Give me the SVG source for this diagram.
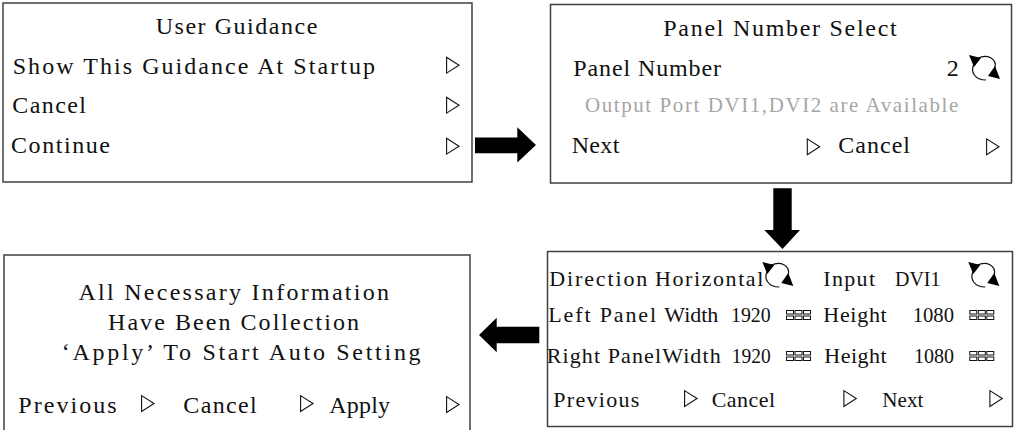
<svg xmlns="http://www.w3.org/2000/svg" width="1016" height="430" viewBox="0 0 1016 430">
<style>
.box{fill:#fff;stroke:#404040;stroke-width:1.5}
.t{font-family:"Liberation Serif","Times New Roman",serif;font-size:24px;fill:#111}
.s{font-family:"Liberation Serif","Times New Roman",serif;font-size:22px;fill:#111}
.g{font-family:"Liberation Serif","Times New Roman",serif;font-size:21px;fill:#a6a6a6}
.arrow{fill:#000}
</style>
<defs>
<path id="tri" d="M0.6,0.6 L13,8.5 L0.6,16.4 Z" fill="none" stroke="#111" stroke-width="1.1"/>
<g id="refresh">
<path d="M9,3 C18,-1 28,3 26,13" fill="none" stroke="#111" stroke-width="1.2"/>
<path d="M5,9 C1,17 6,25 17,25" fill="none" stroke="#111" stroke-width="1.2"/>
<polygon points="0,0 12,3 5,12" fill="#000"/>
<polygon points="31,24 19,21 26,11" fill="#000"/>
</g>
<g id="grid" fill="none" stroke="#111" stroke-width="1">
<rect x="0.5" y="0.5" width="7" height="3.5"/>
<rect x="9" y="0.5" width="7" height="3.5"/>
<rect x="17.5" y="0.5" width="7" height="3.5"/>
<rect x="0.5" y="6" width="7" height="3.5"/>
<rect x="9" y="6" width="7" height="3.5"/>
<rect x="17.5" y="6" width="7" height="3.5"/>
</g>
</defs>
<rect width="1016" height="430" fill="#fff"/>

<g id="user-guidance">
<rect class="box" x="3" y="3" width="469" height="179"/>
<text class="t" x="155.7" y="34.3" textLength="161.6">User Guidance</text>
<text class="t" x="12.7" y="74" textLength="362.3">Show This Guidance At Startup</text>
<text class="t" x="12.3" y="112.7" textLength="73.7">Cancel</text>
<text class="t" x="11" y="152.7" textLength="99">Continue</text>
<use href="#tri" x="446" y="56.7"/>
<use href="#tri" x="446" y="96.7"/>
<use href="#tri" x="446" y="137.7"/>
</g>

<g id="panel-number-select">
<rect class="box" x="550.5" y="4.5" width="461" height="178.5"/>
<text class="t" x="663.3" y="36" textLength="233.4">Panel Number Select</text>
<text class="t" x="573.3" y="76" textLength="147.7">Panel Number</text>
<text class="t" x="946.7" y="76">2</text>
<use href="#refresh" x="969" y="55"/>
<text class="g" x="585" y="111.7" textLength="373.3">Output Port DVI1,DVI2 are Available</text>
<text class="t" x="571.7" y="152.7" textLength="47.6">Next</text>
<use href="#tri" x="806.7" y="138.3"/>
<text class="t" x="838.3" y="152.7" textLength="71.7">Cancel</text>
<use href="#tri" x="986" y="138.3"/>
</g>

<g id="panel-settings">
<rect class="box" x="547.5" y="251.5" width="465" height="175"/>
<text class="s" x="549.3" y="285.7" textLength="98">Direction</text>
<text class="s" x="655" y="285.7" textLength="108.3">Horizontal</text>
<use href="#refresh" x="762.3" y="262"/>
<text class="s" x="823.3" y="285.7" textLength="51.7">Input</text>
<text class="s" x="895" y="285.7" textLength="45.5" lengthAdjust="spacingAndGlyphs">DVI1</text>
<use href="#refresh" x="968.3" y="262"/>

<text class="s" x="548.3" y="322.3" textLength="107.7">Left Panel</text>
<text class="s" x="664.3" y="322.3" textLength="54" lengthAdjust="spacingAndGlyphs">Width</text>
<text class="s" x="731" y="322.3" textLength="39.7" lengthAdjust="spacingAndGlyphs">1920</text>
<use href="#grid" x="786" y="310"/>
<text class="s" x="823.3" y="322.3" textLength="63.4">Height</text>
<text class="s" x="912.7" y="322.3" textLength="41.3" lengthAdjust="spacingAndGlyphs">1080</text>
<use href="#grid" x="969.3" y="310"/>

<text class="s" x="546.7" y="363.3" textLength="174">Right PanelWidth</text>
<text class="s" x="731.7" y="363.3" textLength="39" lengthAdjust="spacingAndGlyphs">1920</text>
<use href="#grid" x="786" y="351"/>
<text class="s" x="824.3" y="363.3" textLength="62.4">Height</text>
<text class="s" x="914" y="363.3" textLength="40" lengthAdjust="spacingAndGlyphs">1080</text>
<use href="#grid" x="969.3" y="351"/>

<text class="s" x="553.3" y="407.3" textLength="86">Previous</text>
<use href="#tri" x="684" y="390"/>
<text class="s" x="711.7" y="407.3" textLength="63.3">Cancel</text>
<use href="#tri" x="843.3" y="390"/>
<text class="s" x="882.3" y="407.3" textLength="41" lengthAdjust="spacingAndGlyphs">Next</text>
<use href="#tri" x="989.3" y="390"/>
</g>

<g id="apply-settings">
<rect class="box" x="4" y="255" width="466" height="185"/>
<text class="t" x="78.4" y="300" textLength="310.6">All Necessary Information</text>
<text class="t" x="108" y="329.5" textLength="251">Have Been Collection</text>
<text class="t" x="61.8" y="360" textLength="358.8">‘Apply’ To Start Auto Setting</text>
<text class="t" x="18.3" y="413" textLength="98.4">Previous</text>
<use href="#tri" x="141" y="395"/>
<text class="t" x="183.3" y="413" textLength="73.4">Cancel</text>
<use href="#tri" x="300" y="395"/>
<text class="t" x="329.3" y="413" textLength="60.7">Apply</text>
<use href="#tri" x="446" y="396"/>
</g>

<g id="connectors">
<polygon class="arrow" points="475,137.5 517.3,137.5 517.3,127.3 536,145 517.3,162.5 517.3,153.3 475,153.3"/>
<polygon class="arrow" points="773.3,188.3 791.7,188.3 791.7,230 800,230 782.5,249 764.3,230 773.3,230"/>
<polygon class="arrow" points="539.3,326.7 496.7,326.7 496.7,317.7 479,335 496.7,352.3 496.7,343.3 539.3,343.3"/>
</g>
</svg>
